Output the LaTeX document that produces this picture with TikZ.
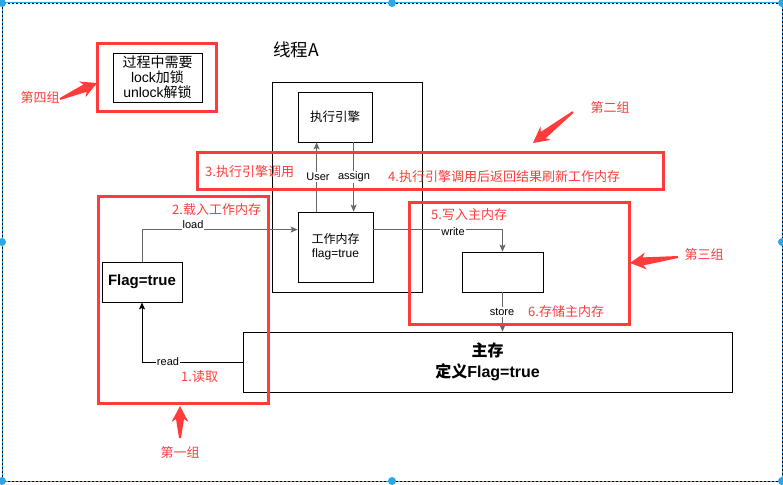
\documentclass[tikz,border=0pt]{standalone}
\usepackage{fontspec}
\setmainfont{Liberation Sans}
\newfontfamily\cjk{Noto Sans CJK SC}
\usetikzlibrary{calc,arrows.meta}

\definecolor{grp}{HTML}{FF3B3B}
\definecolor{handle}{HTML}{29A8E8}

% tapered block arrow from coordinate #1 (tail) to coordinate #2 (tip)
\newcommand\grouparrow[2]{%
  \fill[grp] let \p1=($(#2)-(#1)$), \n1={atan2(\y1,\x1)}, \n2={veclen(\x1,\y1)} in
    {[shift={(#1)}, rotate=\n1]
      (0,-1) -- ({\n2-13},-4) -- ({\n2-16},-8.5) -- (\n2,0)
      -- ({\n2-16},8.5) -- ({\n2-13},4) -- (0,1) -- cycle};}

\begin{document}
\begin{tikzpicture}[x=1pt,y=-1pt,
  font=\fontsize{12}{14}\selectfont,
  box/.style={draw, line width=0.8pt, inner sep=0pt, align=center},
  grpbox/.style={draw=grp, line width=3pt, inner sep=0pt},
  grptext/.style={text=grp, font=\cjk\fontsize{13}{15}\selectfont, inner sep=0pt},
  conn/.style={line width=0.9pt, draw=black!60},
  tip/.style={-{Stealth[length=7pt,width=6pt,inset=1.5pt]}},
  lbl/.style={fill=white, inner sep=1pt, font=\fontsize{11}{13}\selectfont}]

\useasboundingbox (0,0) rectangle (783,484);

% selection frame with handles
\draw[handle, line width=1pt] (2,3) rectangle (782,481);
\draw[black, line width=0.6pt, dash pattern=on 2pt off 2pt] (2,3) rectangle (782,481);
\foreach \hx/\hy in {2/3,392/3,782/3,2/242,782/242,2/481,392/481,782/481}
  \fill[handle] (\hx,\hy) circle (4pt);

% thread and memory blocks
\node[box, minimum width=89pt, minimum height=49pt, font=\fontsize{14}{15}\selectfont]
  (lock) at (157.5,77.5) {{\cjk 过程中需要}\\lock{\cjk 加锁}\\unlock{\cjk 解锁}};
\node[font=\cjk\fontsize{17.5}{19}\selectfont] (title) at (296,50) {线程A};
\node[box, minimum width=150pt, minimum height=210pt] (thread) at (347,187) {};
\node[box, minimum width=74pt, minimum height=50pt, font=\fontsize{12.5}{14}\selectfont]
  (engine) at (335,117) {\cjk 执行引擎};
\node[box, minimum width=75pt, minimum height=70pt, font=\fontsize{12}{14}\selectfont]
  (work) at (335.5,247) {{\cjk 工作内存}\\flag=true};
\node[box, minimum width=80pt, minimum height=40pt, font=\bfseries\fontsize{15}{17}\selectfont]
  (flag) at (142,282) {Flag=true};
\node[box, minimum width=81pt, minimum height=40pt] (blank) at (502.5,272) {};
\node[box, minimum width=489pt, minimum height=60pt, font=\bfseries\fontsize{16}{21}\selectfont]
  (mem) at (487.5,362) {{\cjk\bfseries 主存}\\{\cjk\bfseries 定义}Flag=true};

% connectors
\draw[conn, tip] ([xshift=19pt]work.north west) -- ([xshift=19pt]engine.south west);
\draw[conn, tip] ([xshift=56pt]engine.south west) -- ([xshift=56pt]work.north west);
\draw[conn, tip] (flag.north) |- ([yshift=-18pt]work.north west);
\draw[conn, tip] ([yshift=-18pt]work.north east) -| (blank.north);
\draw[conn, tip] (blank.south) -- (blank.south |- mem.north);
\draw[line width=0.9pt, tip] (mem.west) -| (flag.south);

\node[lbl] (luser) at (318,177) {User};
\node[lbl] (lassign) at (354,177) {assign};
\node[lbl] (lload) at (193,225) {load};
\node[lbl] (lwrite) at (453,232) {write};
\node[lbl] (lstore) at (502,312) {store};
\node[lbl] (lread) at (168,362) {read};

% group outlines
\node[grpbox, minimum width=119pt, minimum height=67pt] (g4) at (156.5,77.5) {};
\node[grpbox, minimum width=466pt, minimum height=37pt] (g2) at (430,170.5) {};
\node[grpbox, minimum width=170pt, minimum height=207pt] (g1) at (183,299.5) {};
\node[grpbox, minimum width=220pt, minimum height=122pt] (g3) at (519,263) {};

% step annotations
\node[grptext, anchor=west] (s3) at (205,172) {3.执行引擎调用};
\node[grptext, anchor=west] (s4) at (388,177) {4.执行引擎调用后返回结果刷新工作内存};
\node[grptext, anchor=west] (s2) at (172,210) {2.载入工作内存};
\node[grptext, anchor=west] (s1) at (181,377) {1.读取};
\node[grptext, anchor=west] (s5) at (431,215) {5.写入主内存};
\node[grptext, anchor=west] (s6) at (528,312) {6.存储主内存};

% group labels and pointers
\node[grptext] (n4) at (40,98) {第四组};
\node[grptext] (n2) at (610,108) {第二组};
\node[grptext] (n3) at (704,255) {第三组};
\node[grptext] (n1) at (180,453) {第一组};

\coordinate (t4) at (60,99);  \coordinate (h4) at (97,83);
\coordinate (t2) at (573,112); \coordinate (h2) at (533,143);
\coordinate (t3) at (678,257); \coordinate (h3) at (630,263);
\coordinate (t1) at (180,438); \coordinate (h1) at (180,406);
\grouparrow{t4}{h4}
\grouparrow{t2}{h2}
\grouparrow{t3}{h3}
\grouparrow{t1}{h1}

\end{tikzpicture}
\end{document}
